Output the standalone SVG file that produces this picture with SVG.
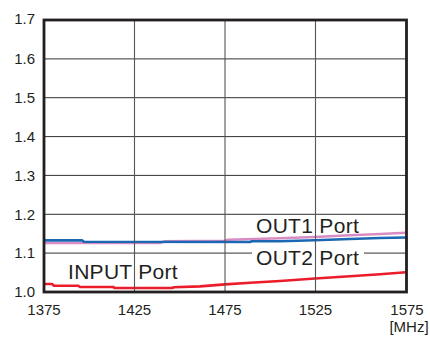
<svg xmlns="http://www.w3.org/2000/svg" width="430" height="338" viewBox="0 0 430 338">
<style>
.t{font-family:"Liberation Sans",Arial,sans-serif;fill:#231f20}
.tick{font-size:15px}
.lab{font-size:21px;letter-spacing:0.3px}
.gh{stroke:#333;stroke-width:1;fill:none}
.gv{stroke:#555;stroke-width:1.1;fill:none}
.c{fill:none;stroke-width:2.6;stroke-linejoin:round}
</style>
<rect width="430" height="338" fill="#fff"/>
<g id="grid">
<path class="gh" d="M44 58.9H406M44 97.7H406M44 136.6H406M44 175.4H406M44 214.3H406M44 253.1H406"/>
</g>
<g id="connectors">
<polyline id="pink" class="c" stroke="#d98cc4" points="44,243 160,243 165,241.3 225,240.8 228,239.8 280,238.3 315,237 350,235.3 380,234 406,232.7"/>
<polyline id="blue" class="c" stroke="#1a68b3" points="44,240.4 82,240.4 84,241.8 250,242 252,241.2 280,241.3 315,240.3 350,239 380,238 406,237.5"/>
<polyline id="red" class="c" stroke="#ec1c2a" points="44,284 52,284 54,285.7 78,285.7 80,287 113,287 115,288 172,288 174,287.2 200,286.4 225,284.4 250,282.7 280,281 315,278.5 350,276.3 380,274.3 406,272.3"/>
</g>
<rect x="252" y="246" width="112" height="22" fill="#fff"/>
<g id="vgrid">
<path class="gv" d="M134.5 20V292M225 20V292M315.5 20V292"/>
</g>
<g id="frame">
<rect x="44" y="20" width="362.5" height="272" fill="none" stroke="#231f20" stroke-width="2.8"/>
</g>
<g id="yaxis" class="t tick" text-anchor="end">
<text x="35" y="24">1.7</text>
<text x="35" y="64">1.6</text>
<text x="35" y="103">1.5</text>
<text x="35" y="141.5">1.4</text>
<text x="35" y="180.5">1.3</text>
<text x="35" y="219.5">1.2</text>
<text x="35" y="258">1.1</text>
<text x="35" y="297">1.0</text>
</g>
<g id="xaxis" class="t tick" text-anchor="middle">
<text x="44" y="315">1375</text>
<text x="134.5" y="315">1425</text>
<text x="225" y="315">1475</text>
<text x="315.5" y="315">1525</text>
<text x="407" y="315">1575</text>
<text x="409" y="332">[MHz]</text>
</g>
<g id="label-input"><text class="t lab" x="68" y="278.5">INPUT Port</text></g>
<g id="label-out1"><text class="t lab" x="256" y="233">OUT1 Port</text></g>
<g id="label-out2"><text class="t lab" x="256" y="264.5">OUT2 Port</text></g>
</svg>
